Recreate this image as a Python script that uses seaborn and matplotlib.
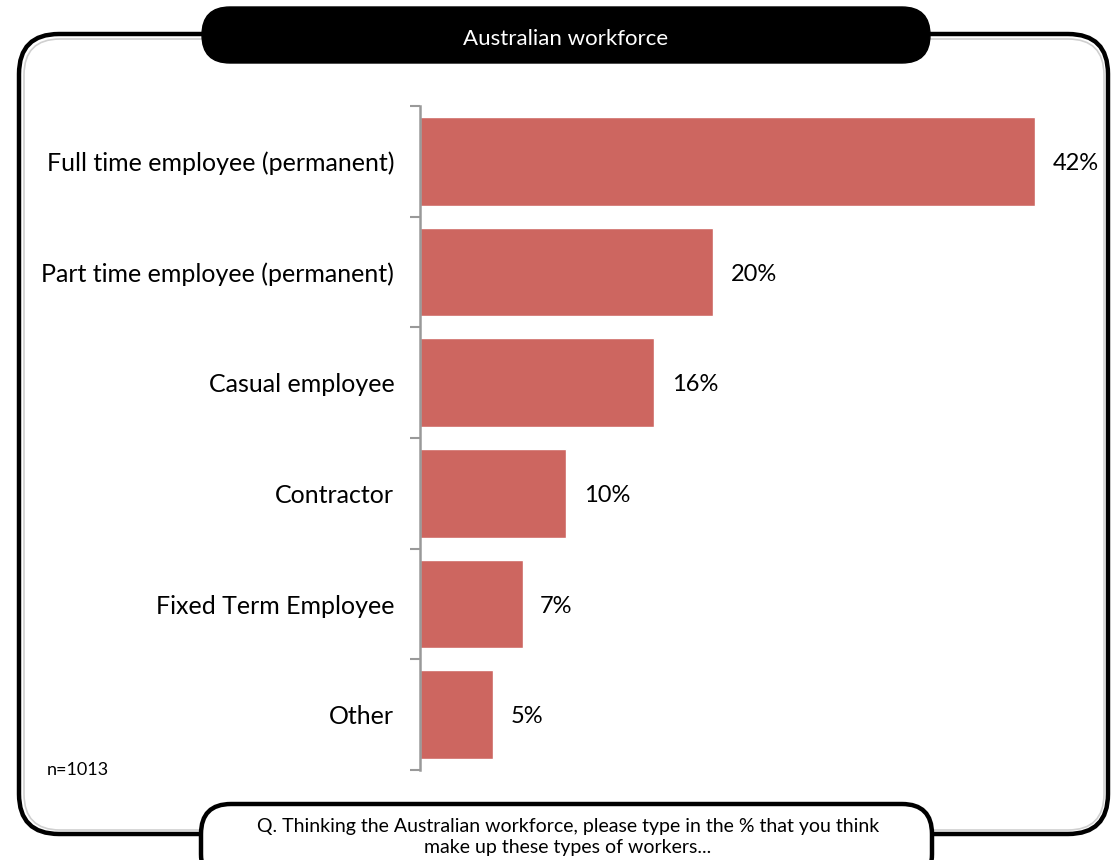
import matplotlib
matplotlib.use("Agg")
import matplotlib.pyplot as plt
from matplotlib.patches import FancyBboxPatch
import seaborn as sns
import pandas as pd

categories = [
    "Full time employee (permanent)",
    "Part time employee (permanent)",
    "Casual employee",
    "Contractor",
    "Fixed Term Employee",
    "Other",
]
values = [42, 20, 16, 10, 7, 5]
title = "Australian workforce"
sample_note = "n=1013"
question = ("Q. Thinking the Australian workforce, please type in the % that you think\n"
            "make up these types of workers...")

sns.set_theme(style="white")
plt.rcParams["font.family"] = ["Lato", "DejaVu Sans"]
plt.rcParams["text.color"] = "black"

W, H = 1111, 860
fig = plt.figure(figsize=(W / 100, H / 100), dpi=100)

# background layer in pixel units for the frame and the two pills
bg = fig.add_axes([0, 0, 1, 1], zorder=0)
bg.set_xlim(0, W)
bg.set_ylim(H, 0)
bg.axis("off")

# soft grey shadow line inside the frame
bg.add_patch(FancyBboxPatch((24, 39), 1080, 791,
                            boxstyle="round,pad=0,rounding_size=36",
                            fill=False, ec="#d0d0d0", lw=1.2))
bg.add_patch(FancyBboxPatch((19, 34), 1089, 800,
                            boxstyle="round,pad=0,rounding_size=40",
                            fill=False, ec="black", lw=3.2))

# title pill
bg.add_patch(FancyBboxPatch((202, 7), 728, 56,
                            boxstyle="round,pad=0,rounding_size=28",
                            fc="black", ec="black", lw=1))
bg.text(566, 39, title, color="white", ha="center", va="center", fontsize=16)

# question pill
bg.add_patch(FancyBboxPatch((201, 804), 731, 80,
                            boxstyle="round,pad=0,rounding_size=30",
                            fc="white", ec="black", lw=3.2))
bg.text(568, 837, question, color="black", ha="center", va="center",
        fontsize=14, linespacing=1.25)

bg.text(47, 770, sample_note, ha="left", va="center", fontsize=13, color="black")

# bar chart
left_px, right_px = 420, 1070
top_px, bottom_px = 106, 770
ax = fig.add_axes([left_px / W, 1 - bottom_px / H,
                   (right_px - left_px) / W, (bottom_px - top_px) / H], zorder=1)
ax.patch.set_alpha(0)

df = pd.DataFrame({"category": categories, "value": values})
sns.barplot(data=df, x="value", y="category", orient="h", color="#CD6660",
            saturation=1, width=0.8, ax=ax)

px_per_unit = 615 / 42
ax.set_xlim(0, (right_px - left_px) / px_per_unit)
ax.set_ylim(len(categories) - 0.5, -0.5)
ax.set_xlabel("")
ax.set_ylabel("")
ax.set_xticks([])

for i, v in enumerate(values):
    ax.text(v + 1.2, i + 0.02, f"{v}%", ha="left", va="center", fontsize=17,
            color="black", clip_on=False)

ax.set_yticks(range(len(categories)))
ax.set_yticklabels(categories, fontsize=18, color="black")
ax.tick_params(axis="y", which="major", length=0, pad=18.5)
ax.set_yticks([i - 0.5 for i in range(len(categories) + 1)], minor=True)
ax.tick_params(axis="y", which="minor", length=7, width=1.5, color="#999999", left=True)

for s in ["top", "right", "bottom"]:
    ax.spines[s].set_visible(False)
ax.spines["left"].set_color("#999999")
ax.spines["left"].set_linewidth(1.8)

fig.savefig("out.png", dpi=100)
